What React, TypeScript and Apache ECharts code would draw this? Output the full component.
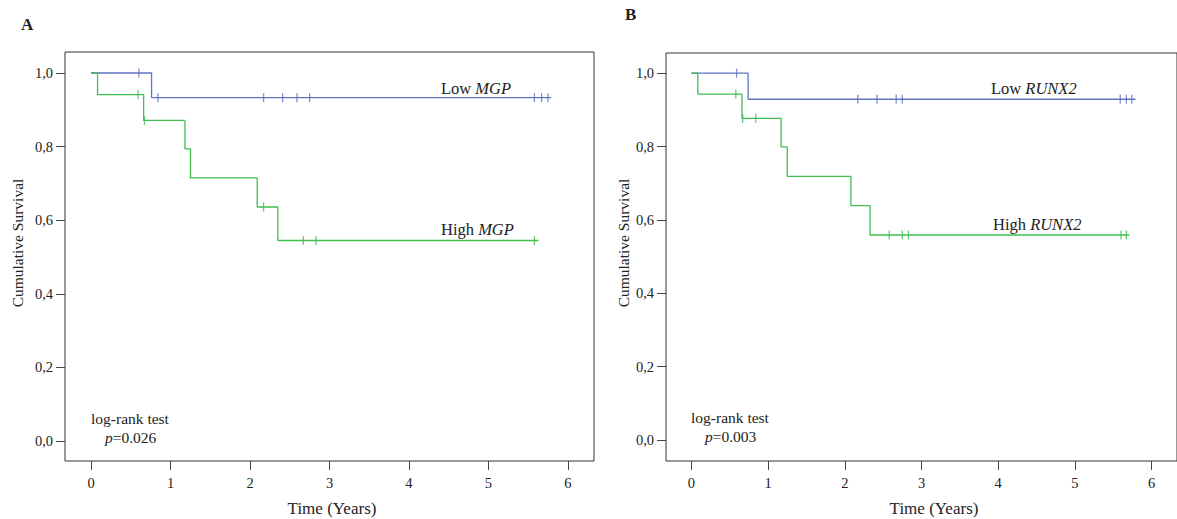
import React, { useEffect, useRef } from "react";
import * as echarts from "echarts";

// ---- Data ----
// Panel A: MGP
const lowMgpTimes = [0, 0.76, 5.79];
const lowMgpSurv = [1, 0.933, 0.933];
const lowMgpCensor = [0.6, 0.84, 2.17, 2.41, 2.59, 2.75, 5.58, 5.67, 5.75];

const highMgpTimes = [0, 0.08, 0.66, 1.18, 1.25, 2.09, 2.35, 5.63];
const highMgpSurv = [1, 0.941, 0.871, 0.794, 0.715, 0.636, 0.545, 0.545];
const highMgpCensor = [0.59, 0.67, 2.17, 2.67, 2.83, 5.58];

// Panel B: RUNX2
const lowRunxTimes = [0, 0.74, 5.79];
const lowRunxSurv = [1, 0.929, 0.929];
const lowRunxCensor = [0.59, 2.17, 2.42, 2.67, 2.75, 5.59, 5.67, 5.74];

const highRunxTimes = [0, 0.085, 0.66, 1.17, 1.25, 2.08, 2.33, 5.71];
const highRunxSurv = [1, 0.943, 0.877, 0.799, 0.719, 0.639, 0.559, 0.559];
const highRunxCensor = [0.58, 0.67, 0.84, 2.58, 2.75, 2.83, 5.6, 5.67];

const xTicks = [0, 1, 2, 3, 4, 5, 6];
const yTicks = [0, 0.2, 0.4, 0.6, 0.8, 1.0];

const BLUE = "#5f73c3";
const GREEN = "#3fbf50";
const FONT = "'Liberation Serif', 'Times New Roman', serif";

function survAt(times: number[], surv: number[], t: number) {
  let s = surv[0];
  for (let i = 0; i < times.length; i++) if (times[i] <= t) s = surv[i];
  return s;
}

function kmSeries(idx: number, times: number[], surv: number[], censor: number[], color: string) {
  return [
    {
      type: "line",
      xAxisIndex: idx,
      yAxisIndex: idx,
      step: "end",
      showSymbol: false,
      symbol: "none",
      data: times.map((t, i) => [t, surv[i]]),
      lineStyle: { color, width: 1.3 },
      silent: true,
    },
    {
      type: "scatter",
      xAxisIndex: idx,
      yAxisIndex: idx,
      symbol: "rect",
      symbolSize: [1.3, 9],
      itemStyle: { color },
      data: censor.map((t) => [t, survAt(times, surv, t)]),
      silent: true,
    },
  ];
}

function xAxis(idx: number) {
  return {
    type: "value",
    gridIndex: idx,
    min: -0.33,
    max: 6.33,
    axisLine: { show: false, onZero: false },
    splitLine: { show: false },
    axisTick: { show: true, length: 9, customValues: xTicks, lineStyle: { color: "#444", width: 1 } },
    axisLabel: {
      customValues: xTicks,
      margin: 14,
      fontFamily: FONT,
      fontSize: 14.5,
      color: "#222",
      formatter: (v: number) => String(v),
    },
  };
}

function yAxis(idx: number, min: number, max: number) {
  return {
    type: "value",
    gridIndex: idx,
    min,
    max,
    axisLine: { show: false, onZero: false },
    splitLine: { show: false },
    axisTick: { show: true, length: 9, customValues: yTicks, lineStyle: { color: "#444", width: 1 } },
    axisLabel: {
      customValues: yTicks,
      margin: 12,
      fontFamily: FONT,
      fontSize: 14.5,
      color: "#222",
      formatter: (v: number) => v.toFixed(1).replace(".", ","),
    },
  };
}

function txt(x: number, y: number, text: string, opts: any = {}) {
  return {
    type: "text",
    x,
    y,
    rotation: opts.rotation || 0,
    style: {
      text,
      fontFamily: FONT,
      fontSize: opts.fontSize || 16.5,
      fontWeight: opts.fontWeight || "normal",
      fill: "#222",
      align: opts.align || "left",
      verticalAlign: "middle",
      rich: opts.rich,
    },
  };
}

const rich = {
  n: { fontFamily: FONT, fontSize: 16.5, fill: "#222", color: "#222" },
  i: { fontFamily: FONT, fontSize: 16.5, fontStyle: "italic", fill: "#222", color: "#222" },
};
const richSmall = {
  n: { fontFamily: FONT, fontSize: 15.5, fill: "#222", color: "#222" },
  i: { fontFamily: FONT, fontSize: 15.5, fontStyle: "italic", fill: "#222", color: "#222" },
};

export default function App() {
  const ref = useRef<HTMLDivElement>(null);
  useEffect(() => {
    if (!ref.current) return;
    const chart = echarts.init(ref.current, null, { renderer: "svg" });
    chart.setOption({
      animation: false,
      backgroundColor: "#fff",
      grid: [
        { left: 65, top: 52, width: 529, height: 409, show: true, borderColor: "#333", borderWidth: 1, backgroundColor: "transparent" },
        { left: 666, top: 53, width: 518, height: 408, show: true, borderColor: "#333", borderWidth: 1, backgroundColor: "transparent" },
      ],
      xAxis: [xAxis(0), xAxis(1)],
      yAxis: [yAxis(0, -0.054, 1.057), yAxis(1, -0.057, 1.055)],
      series: [
        ...kmSeries(0, lowMgpTimes, lowMgpSurv, lowMgpCensor, BLUE),
        ...kmSeries(0, highMgpTimes, highMgpSurv, highMgpCensor, GREEN),
        ...kmSeries(1, lowRunxTimes, lowRunxSurv, lowRunxCensor, BLUE),
        ...kmSeries(1, highRunxTimes, highRunxSurv, highRunxCensor, GREEN),
      ],
      graphic: [
        txt(21, 24, "A", { fontSize: 17, fontWeight: "bold" }),
        txt(625, 14, "B", { fontSize: 17, fontWeight: "bold" }),
        txt(17, 243, "Cumulative Survival", { rotation: Math.PI / 2, align: "center", fontSize: 15.5 }),
        txt(623, 243, "Cumulative Survival", { rotation: Math.PI / 2, align: "center", fontSize: 15.5 }),
        txt(332, 508, "Time (Years)", { align: "center", fontSize: 17 }),
        txt(934, 508, "Time (Years)", { align: "center", fontSize: 17 }),
        txt(441, 88, "{n|Low }{i|MGP}", { rich }),
        txt(441, 229, "{n|High }{i|MGP}", { rich }),
        txt(991, 88, "{n|Low }{i|RUNX2}", { rich }),
        txt(993, 224, "{n|High }{i|RUNX2}", { rich }),
        txt(91, 418, "log-rank test", { fontSize: 15.5 }),
        txt(105, 437, "{i|p}{n|=0.026}", { rich: richSmall }),
        txt(691, 417, "log-rank test", { fontSize: 15.5 }),
        txt(705, 436, "{i|p}{n|=0.003}", { rich: richSmall }),
      ],
    });
    return () => chart.dispose();
  }, []);
  return (
    <div
      ref={ref}
      style={{ position: "fixed", left: 0, top: 0, width: 1177, height: 519, background: "#fff" }}
    />
  );
}
